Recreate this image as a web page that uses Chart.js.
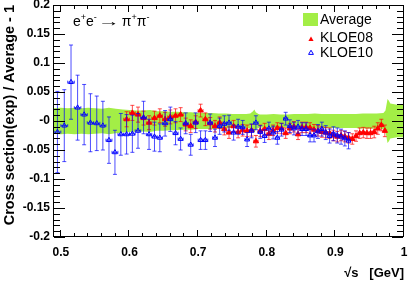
<!DOCTYPE html>
<html><head><meta charset="utf-8">
<script src="https://cdn.jsdelivr.net/npm/chart.js@4/dist/chart.umd.min.js"></script>
<style>html,body{margin:0;padding:0;background:#fff}</style>
</head><body>
<canvas id="c" width="415" height="281"></canvas>
<script>
// ---- data ----
const kloe10X = [0.4950,0.5050,0.5148,0.5244,0.5339,0.5431,0.5523,0.5612,0.5701,0.5788,
0.5874,0.5958,0.6042,0.6124,0.6205,0.6285,0.6364,0.6442,0.6519,0.6595,
0.6671,0.6745,0.6819,0.6892,0.6964,0.7036,0.7106,0.7176,0.7246,0.7314,
0.7382,0.7450,0.7517,0.7583,0.7649,0.7714,0.7778,0.7842,0.7906,0.7969,
0.8031,0.8093,0.8155,0.8216,0.8276,0.8337,0.8396,0.8456,0.8515,0.8573,
0.8631,0.8689,0.8746,0.8803,0.8860,0.8916,0.8972,0.9028,0.9083,0.9138,0.9192];
const kloe10Y = [-0.019,-0.008,0.067,0.023,0.011,-0.003,-0.004,-0.008,-0.033,-0.054,
-0.023,-0.023,-0.022,-0.017,0.006,-0.023,-0.027,-0.029,-0.004,0.003,
-0.021,-0.031,-0.004,-0.041,-0.003,-0.033,-0.033,-0.003,-0.029,-0.009,
-0.005,-0.003,-0.020,-0.010,-0.011,-0.032,-0.017,-0.003,-0.019,-0.026,
-0.013,-0.020,-0.029,-0.015,0.004,-0.009,-0.013,-0.010,-0.014,-0.014,
-0.025,-0.025,-0.018,-0.014,-0.020,-0.026,-0.022,-0.025,-0.027,-0.030,-0.034];
const kloe10Err = [0.070,0.062,0.064,0.056,0.052,0.050,0.047,0.042,0.040,0.038,
0.036,0.034,0.032,0.030,0.028,0.026,0.025,0.024,0.022,0.021,
0.020,0.019,0.018,0.018,0.017,0.016,0.016,0.015,0.015,0.014,
0.014,0.013,0.013,0.013,0.012,0.012,0.012,0.012,0.011,0.011,
0.011,0.011,0.011,0.011,0.011,0.011,0.011,0.011,0.011,0.011,
0.011,0.011,0.012,0.012,0.012,0.012,0.012,0.013,0.013,0.013,0.014];

const kloe08X = [0.5958,0.6042,0.6124,0.6205,0.6285,0.6364,0.6442,0.6519,0.6595,0.6671,
0.6745,0.6819,0.6892,0.6964,0.7036,0.7106,0.7176,0.7246,0.7314,0.7382,
0.7450,0.7517,0.7583,0.7649,0.7714,0.7778,0.7842,0.7906,0.7969,0.8031,
0.8093,0.8155,0.8216,0.8276,0.8337,0.8396,0.8456,0.8515,0.8573,0.8631,
0.8689,0.8746,0.8803,0.8860,0.8916,0.8972,0.9028,0.9083,0.9138,0.9192,
0.9247,0.9301,0.9354,0.9407,0.9460,0.9513,0.9566,0.9618,0.9670,0.9721];
const kloe08Y = [0.003,0.014,0.011,0.005,-0.003,0.005,0.009,0.003,0.007,0.009,
0.011,-0.006,-0.009,-0.002,0.018,0.003,-0.004,-0.009,-0.003,-0.014,
-0.020,-0.009,-0.019,-0.016,-0.017,-0.016,-0.035,-0.017,-0.014,-0.022,
-0.016,-0.012,-0.013,-0.021,-0.013,-0.010,-0.023,-0.011,-0.011,-0.012,
-0.015,-0.017,-0.019,-0.020,-0.021,-0.025,-0.027,-0.025,-0.027,-0.029,
-0.031,-0.026,-0.021,-0.020,-0.021,-0.021,-0.019,-0.013,-0.007,-0.017];
const kloe08Err = [0.013,0.013,0.013,0.012,0.012,0.012,0.012,0.012,0.012,0.012,
0.012,0.011,0.011,0.011,0.011,0.011,0.010,0.010,0.010,0.010,
0.010,0.010,0.010,0.010,0.010,0.010,0.010,0.010,0.010,0.010,
0.009,0.009,0.009,0.009,0.009,0.009,0.009,0.009,0.009,0.009,
0.009,0.009,0.009,0.009,0.009,0.009,0.009,0.009,0.009,0.009,
0.009,0.009,0.009,0.009,0.009,0.009,0.010,0.010,0.010,0.010];

const avgX = [0.49,0.50,0.51,0.52,0.53,0.54,0.55,0.56,0.57,0.58,
0.59,0.60,0.61,0.62,0.63,0.64,0.65,0.66,0.67,0.68,
0.69,0.70,0.71,0.72,0.73,0.74,0.75,0.76,0.77,
0.776,0.780,0.782,0.784,0.788,
0.79,0.80,0.81,0.82,0.83,0.84,0.85,0.86,0.87,0.88,0.89,0.90,0.91,0.92,0.93,0.94,0.95,0.96,0.97,
0.973,0.976,0.978,0.98,0.99,1.00];
const avgHalf = [0.022,0.023,0.022,0.023,0.022,0.023,0.022,0.021,0.023,0.021,
0.020,0.019,0.018,0.018,0.019,0.017,0.017,0.016,0.016,0.015,
0.015,0.014,0.014,0.014,0.013,0.013,0.012,0.012,0.012,
0.013,0.017,0.020,0.015,0.012,
0.011,0.011,0.012,0.011,0.011,0.012,0.012,0.012,0.013,0.012,0.012,0.012,0.012,0.012,0.012,0.013,0.013,0.013,0.014,
0.018,0.038,0.035,0.030,0.028,0.028];

const xTickValues = [0.5,0.6,0.7,0.8,0.9,1.0];
const xTickLabels = ['0.5','0.6','0.7','0.8','0.9','1'];
const yTickValues = [-0.2,-0.15,-0.1,-0.05,0,0.05,0.1,0.15,0.2];
const yTickLabels = ['-0.2','-0.15','-0.1','-0.05','-0','0.05','0.1','0.15','0.2'];

const GREEN = '#a3ee46';
const FONT = 'Liberation Sans';

function pts(xs, ys) { return xs.map((x, i) => ({x: x, y: ys[i]})); }

const errPlugin = {
  id: 'errbars',
  beforeDatasetDraw(chart, args) {
    const ds = chart.data.datasets[args.index];
    if (!ds.errY) return;
    const {ctx, chartArea: a, scales: {x: xs, y: ys}} = chart;
    ctx.save();
    ctx.beginPath(); ctx.rect(a.left, a.top, a.right - a.left, a.bottom - a.top); ctx.clip();
    ctx.strokeStyle = ds.errColor; ctx.lineWidth = 1;
    const d = ds.data;
    d.forEach((p, i) => {
      const prev = i > 0 ? d[i-1].x : p.x - (d[i+1].x - p.x);
      const next = i < d.length - 1 ? d[i+1].x : p.x + (p.x - d[i-1].x);
      const hw = (next - prev) / 4;
      const px = xs.getPixelForValue(p.x), py = ys.getPixelForValue(p.y);
      const pt = ys.getPixelForValue(p.y + ds.errY[i]), pb = ys.getPixelForValue(p.y - ds.errY[i]);
      const pl = xs.getPixelForValue(p.x - hw), pr = xs.getPixelForValue(p.x + hw);
      ctx.beginPath();
      ctx.moveTo(px, pt); ctx.lineTo(px, pb);
      ctx.moveTo(px - 2, pt); ctx.lineTo(px + 2, pt);
      ctx.moveTo(px - 2, pb); ctx.lineTo(px + 2, pb);
      ctx.moveTo(pl, py); ctx.lineTo(pr, py);
      ctx.moveTo(pl, py - 1.5); ctx.lineTo(pl, py + 1.5);
      ctx.moveTo(pr, py - 1.5); ctx.lineTo(pr, py + 1.5);
      ctx.stroke();
    });
    ctx.restore();
  }
};

function tri(ctx, x, y, r, fill, color) {
  ctx.beginPath();
  ctx.moveTo(x, y - r);
  ctx.lineTo(x + r * 0.866, y + r * 0.5);
  ctx.lineTo(x - r * 0.866, y + r * 0.5);
  ctx.closePath();
  if (fill) { ctx.fillStyle = color; ctx.fill(); }
  else { ctx.strokeStyle = color; ctx.lineWidth = 1; ctx.stroke(); }
}

const decor = {
  id: 'decor',
  afterDatasetsDraw(chart) {
    const {ctx, chartArea: a, scales: {x: xs, y: ys}} = chart;
    ctx.save();
    ctx.strokeStyle = '#000'; ctx.lineWidth = 1;
    ctx.strokeRect(a.left - 0.5, a.top + 0.5, a.right - a.left, a.bottom - a.top - 1);
    ctx.beginPath();
    for (let i = -20; i <= 20; i++) {
      const py = Math.round(ys.getPixelForValue(i / 100)) + 0.5;
      const len = (i % 5 === 0) ? 11 : 6;
      ctx.moveTo(a.left, py); ctx.lineTo(a.left + len, py);
      ctx.moveTo(a.right - 1, py); ctx.lineTo(a.right - 1 - len, py);
    }
    for (let i = 25; i <= 50; i++) {
      const px = Math.round(xs.getPixelForValue(i / 50)) - 0.5;
      const len = (i % 5 === 0) ? 6 : 3;
      ctx.moveTo(px, a.bottom - 1); ctx.lineTo(px, a.bottom - 1 - len);
      ctx.moveTo(px, a.top + 1); ctx.lineTo(px, a.top + 1 + len);
    }
    ctx.stroke();

    // process label
    const segs = [['e',0],['+',1],['e',0],['-',1],['\u2192',2],['\u03c0',0],['+',1],['\u03c0',0],['-',1]];
    let tx = 73; const base = 26;
    ctx.fillStyle = '#000'; ctx.textBaseline = 'alphabetic'; ctx.textAlign = 'left';
    segs.forEach(([t, kind]) => {
      ctx.font = (kind === 1 ? '9px ' : '14px ') + '"' + FONT + '"';
      if (kind === 2) {
        const w = ctx.measureText(t).width;
        const target = 22;
        ctx.save();
        ctx.translate(tx + 1, base);
        ctx.scale(target / w, 1);
        ctx.fillText(t, 0, 0);
        ctx.restore();
        tx += target + 3;
      } else {
        ctx.fillText(t, tx, kind === 1 ? base - 6 : base);
        tx += ctx.measureText(t).width;
      }
    });

    // legend
    ctx.fillStyle = GREEN; ctx.fillRect(303, 13, 15, 13);
    tri(ctx, 311, 39.5, 3, true, '#ff0000');
    tri(ctx, 311, 53, 2.8, false, '#0000ff');
    ctx.fillStyle = '#000'; ctx.font = '14px "' + FONT + '"'; ctx.textBaseline = 'middle';
    ctx.fillText('Average', 320, 20.5);
    ctx.fillText('KLOE08', 320, 38.5);
    ctx.fillText('KLOE10', 320, 53);
    ctx.restore();
  }
};

const tickFont = {family: FONT, weight: 'bold', size: 12};

new Chart(document.getElementById('c'), {
  type: 'scatter',
  data: {
    datasets: [
      {label: 'Average', data: pts(avgX, avgHalf), showLine: true, borderWidth: 0, borderColor: 'rgba(0,0,0,0)',
       pointRadius: 0, fill: '+1', backgroundColor: GREEN, order: 3, tension: 0},
      {label: 'AverageLow', data: pts(avgX, avgHalf.map(v => -v)), showLine: true, borderWidth: 0, borderColor: 'rgba(0,0,0,0)',
       pointRadius: 0, fill: false, order: 3, tension: 0},
      {label: 'KLOE08', data: pts(kloe08X, kloe08Y), pointStyle: 'triangle', pointRadius: 3, pointBorderWidth: 1,
       backgroundColor: '#ff0000', borderColor: '#ff0000', order: 1, errY: kloe08Err, errColor: 'rgba(255,0,0,0.7)'},
      {label: 'KLOE10', data: pts(kloe10X, kloe10Y), pointStyle: 'triangle', pointRadius: 2.8, pointBorderWidth: 1,
       backgroundColor: 'rgba(0,0,0,0)', borderColor: '#0000ff', order: 0, errY: kloe10Err, errColor: 'rgba(0,0,255,0.7)'}
    ]
  },
  options: {
    responsive: false, animation: false, devicePixelRatio: 1,
    layout: {padding: {left: 0, right: 11, top: 5, bottom: 0}},
    plugins: {legend: {display: false}, tooltip: {enabled: false}},
    scales: {
      x: {
        type: 'linear', position: 'bottom', min: 0.49, max: 1.0,
        grid: {display: false, drawTicks: false}, border: {display: false},
        afterBuildTicks: s => { s.ticks = xTickValues.map(v => ({value: v})); },
        ticks: {autoSkip: false, maxRotation: 0, padding: 8, color: '#000', font: tickFont,
                callback: (v, i) => xTickLabels[i]},
        title: {display: true, text: '\u221As   [GeV]', align: 'end', color: '#000',
                font: {family: FONT, weight: 'bold', size: 13, lineHeight: 1}, padding: {top: 0, bottom: 1.5}},
        afterFit: s => { s.height = 44; s.paddingLeft = 0; s.paddingRight = 0; }
      },
      y: {
        type: 'linear', position: 'left', min: -0.2, max: 0.2,
        grid: {display: false, drawTicks: false}, border: {display: false},
        afterBuildTicks: s => { s.ticks = yTickValues.map(v => ({value: v})); },
        ticks: {autoSkip: false, padding: 4, color: '#000', font: tickFont,
                callback: (v, i) => yTickLabels[i]},
        title: {display: true, text: 'Cross section(exp) / Average - 1', align: 'end', color: '#000',
                font: {family: FONT, weight: 'bold', size: 14.5}, padding: {top: 1, bottom: 0}},
        afterFit: s => { s.width = 54; s.paddingTop = 0; s.paddingBottom = 0; }
      }
    }
  },
  plugins: [errPlugin, decor]
});
</script>
</body></html>
